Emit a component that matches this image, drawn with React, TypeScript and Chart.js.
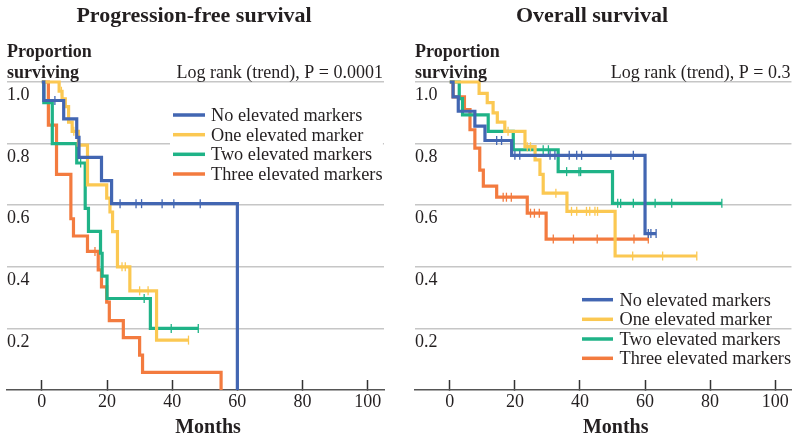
import React, { useEffect, useRef } from 'react';
import { Chart, registerables } from 'chart.js';

Chart.register(...registerables);

// ---------- shared labels ----------
const seriesNames = ['No elevated markers', 'One elevated marker', 'Two elevated markers', 'Three elevated markers'];
const seriesColors = ['#4266b2', '#fbc852', '#1fb387', '#f37b3f'];
const xTickValues = [0, 20, 40, 60, 80, 100];
const yTickValues = [0.2, 0.4, 0.6, 0.8, 1.0];
const yTickLabels = ['0.2', '0.4', '0.6', '0.8', '1.0'];

// ---------- Progression-free survival ----------
const pfsNoneMonths = [0, 0.6, 6.7, 10.7, 11.4, 18.3, 21.4, 60];
const pfsNoneSurv = [1, 0.94, 0.88, 0.82, 0.755, 0.68, 0.605, 0];
const pfsNoneCensored = [4, 24, 28.9, 30.6, 36.9, 40.5, 48.6];

const pfsOneMonths = [0, 5.3, 6.2, 7.2, 8.2, 9.3, 11.2, 14, 19.9, 20.9, 21.7, 23.2, 27, 35.2, 45];
const pfsOneSurv = [1, 0.97, 0.945, 0.92, 0.87, 0.84, 0.795, 0.666, 0.623, 0.578, 0.514, 0.4, 0.322, 0.162, 0.162];
const pfsOneCensored = [6, 9.8, 24.6, 25.6, 30, 32.6, 45];

const pfsTwoMonths = [0, 0.6, 3.2, 10.7, 13.3, 14.3, 18, 18.5, 20, 33.3, 48];
const pfsTwoSurv = [1, 0.933, 0.8, 0.737, 0.59, 0.515, 0.444, 0.37, 0.297, 0.2, 0.2];
const pfsTwoCensored = [11.9, 31.4, 39.7, 48];

const pfsThreeMonths = [0, 2, 4.5, 8.9, 9.7, 14, 17.3, 18.3, 19.9, 20.7, 25, 30, 30.9, 55];
const pfsThreeSurv = [1, 0.86, 0.7, 0.556, 0.5, 0.45, 0.39, 0.335, 0.285, 0.225, 0.17, 0.113, 0.057, 0];
const pfsThreeCensored = [16.3];

// ---------- Overall survival ----------
const osNoneMonths = [0, 1, 2.6, 7.7, 10.8, 19, 60, 63.4];
const osNoneSurv = [1, 0.952, 0.905, 0.857, 0.81, 0.762, 0.508, 0.508];
const osNoneCensored = [14.4, 15.9, 20, 21.5, 30.8, 32.3, 36.7, 39, 40.5, 49.5, 56.4, 61, 61.8, 63.4];

const osOneMonths = [0, 9, 11.5, 13.3, 14.6, 16.9, 23.1, 26.2, 27.7, 28.7, 36, 50.8, 75.9];
const osOneSurv = [1, 0.963, 0.933, 0.9, 0.87, 0.84, 0.79, 0.747, 0.7, 0.639, 0.58, 0.435, 0.435];
const osOneCensored = [17.9, 23.8, 24.8, 32.6, 37.4, 39, 42, 43, 44.6, 45.4, 56.2, 65.4, 75.9];

const osTwoMonths = [0, 2.9, 3.9, 11.8, 19.5, 33.3, 50, 83.6];
const osTwoSurv = [1, 0.946, 0.893, 0.84, 0.78, 0.709, 0.606, 0.606];
const osTwoCensored = [28.7, 30.3, 35.9, 39.7, 40.2, 51.6, 52.5, 56.4, 63.1, 68.2, 83.6];

const osThreeMonths = [0, 1, 4.5, 6.2, 7.7, 9.2, 10.3, 14.4, 23.8, 29.6, 61];
const osThreeSurv = [1, 0.952, 0.91, 0.845, 0.785, 0.714, 0.662, 0.626, 0.574, 0.49, 0.49];
const osThreeCensored = [16.4, 17.4, 18.9, 24.8, 26, 27.5, 31.8, 38, 45.3, 56.6, 61];

const FONT = '"Liberation Serif", "Times New Roman", serif';
const TEXT = '#231f20';

type Curve = { months: number[]; surv: number[]; censored: number[] };

function survAt(months: number[], surv: number[], t: number) {
  let v = surv[0];
  for (let i = 0; i < months.length; i++) {
    if (months[i] <= t) v = surv[i];
  }
  return v;
}

function makeDatasets(curves: Curve[]) {
  const sets: any[] = [];
  curves.forEach((c, i) => {
    sets.push({
      label: seriesNames[i],
      data: c.months.map((m, k) => ({ x: m, y: c.surv[k] })),
      borderColor: seriesColors[i],
      backgroundColor: seriesColors[i],
      borderWidth: 3.2,
      stepped: 'before',
      pointRadius: 0,
      fill: false,
      clip: false,
    });
    sets.push({
      label: seriesNames[i] + ' (censored)',
      data: c.censored.map((m) => ({ x: m, y: survAt(c.months, c.surv, m) })),
      showLine: false,
      pointStyle: 'line',
      pointRotation: 90,
      pointRadius: 4.5,
      pointBorderWidth: 1.3,
      pointBorderColor: seriesColors[i],
      borderColor: seriesColors[i],
      backgroundColor: seriesColors[i],
      clip: false,
    });
  });
  return sets;
}

type TextCfg = {
  title: string;
  titleX: number;
  pText: string;
  legendX1: number;
  legendX2: number;
  legendTextX: number;
  legendBaselines: number[];
  legendBox: boolean;
  monthsX: number;
};

function textPlugin(cfg: TextCfg) {
  return {
    id: 'kmTexts',
    beforeDatasetsDraw(chart: any) {
      if (!cfg.legendBox) return;
      const ctx = chart.ctx as CanvasRenderingContext2D;
      ctx.save();
      ctx.font = `18px ${FONT}`;
      let w = 0;
      seriesNames.forEach((n) => {
        w = Math.max(w, ctx.measureText(n).width);
      });
      const b = cfg.legendBaselines;
      ctx.fillStyle = '#ffffff';
      ctx.fillRect(cfg.legendX1 - 3, b[0] - 15, cfg.legendTextX + w + 3 - (cfg.legendX1 - 3), b[b.length - 1] - b[0] + 20);
      ctx.restore();
    },
    afterDraw(chart: any) {
      const ctx = chart.ctx as CanvasRenderingContext2D;
      const area = chart.chartArea;
      ctx.save();
      ctx.fillStyle = TEXT;
      ctx.textBaseline = 'alphabetic';
      // title
      ctx.font = `bold 22px ${FONT}`;
      ctx.textAlign = 'center';
      ctx.fillText(cfg.title, cfg.titleX, 22);
      // y label
      ctx.font = `bold 18px ${FONT}`;
      ctx.textAlign = 'left';
      ctx.fillText('Proportion', area.left, 57);
      ctx.fillText('surviving', area.left, 77.5);
      // log rank
      ctx.font = `18px ${FONT}`;
      ctx.textAlign = 'right';
      ctx.fillText(cfg.pText, area.right - 1, 78);
      // x label
      ctx.font = `bold 20px ${FONT}`;
      ctx.textAlign = 'center';
      ctx.fillText('Months', cfg.monthsX, 433);
      // legend
      ctx.font = `18.3px ${FONT}`;
      ctx.textAlign = 'left';
      seriesNames.forEach((name, i) => {
        const b = cfg.legendBaselines[i];
        ctx.strokeStyle = seriesColors[i];
        ctx.lineWidth = 3.5;
        ctx.beginPath();
        ctx.moveTo(cfg.legendX1, b - 6);
        ctx.lineTo(cfg.legendX2, b - 6);
        ctx.stroke();
        ctx.fillStyle = TEXT;
        ctx.fillText(name, cfg.legendTextX, b);
      });
      ctx.restore();
    },
  };
}

function makeChart(canvas: HTMLCanvasElement, curves: Curve[], padL: number, padR: number, cfg: TextCfg) {
  return new Chart(canvas, {
    type: 'line',
    data: { datasets: makeDatasets(curves) },
    options: {
      responsive: false,
      animation: false,
      devicePixelRatio: 1,
      layout: { padding: { left: padL, right: padR, top: 82, bottom: 0 } },
      plugins: {
        legend: { display: false },
        tooltip: { enabled: false },
        title: { display: false },
      },
      scales: {
        x: {
          type: 'linear',
          position: 'bottom',
          min: -10.7,
          max: 105,
          afterBuildTicks: (s: any) => {
            s.ticks = xTickValues.map((v) => ({ value: v }));
          },
          afterFit: (s: any) => {
            s.height = 50;
          },
          ticks: {
            font: { family: FONT, size: 18 },
            color: TEXT,
            padding: 11,
            maxRotation: 0,
            autoSkip: false,
          },
          grid: {
            drawOnChartArea: false,
            drawTicks: true,
            tickLength: -10,
            tickColor: '#333333',
            tickWidth: 1.5,
          },
          border: { display: true, color: '#555555', width: 1.6 },
        },
        y: {
          type: 'linear',
          min: 0,
          max: 1,
          afterBuildTicks: (s: any) => {
            s.ticks = yTickValues.map((v) => ({ value: v }));
          },
          afterFit: (s: any) => {
            s.width = 0;
          },
          ticks: {
            mirror: true,
            padding: 0,
            labelOffset: 13.5,
            font: { family: FONT, size: 18 },
            color: TEXT,
            callback: (_v: any, i: number) => yTickLabels[i],
          },
          grid: { color: '#c6c6c6', lineWidth: 1.5, drawTicks: false },
          border: { display: false },
        },
      },
    },
    plugins: [textPlugin(cfg)],
  } as any);
}

export default function App() {
  const leftRef = useRef<HTMLCanvasElement>(null);
  const rightRef = useRef<HTMLCanvasElement>(null);

  useEffect(() => {
    const pfsCurves: Curve[] = [
      { months: pfsNoneMonths, surv: pfsNoneSurv, censored: pfsNoneCensored },
      { months: pfsOneMonths, surv: pfsOneSurv, censored: pfsOneCensored },
      { months: pfsTwoMonths, surv: pfsTwoSurv, censored: pfsTwoCensored },
      { months: pfsThreeMonths, surv: pfsThreeSurv, censored: pfsThreeCensored },
    ];
    const osCurves: Curve[] = [
      { months: osNoneMonths, surv: osNoneSurv, censored: osNoneCensored },
      { months: osOneMonths, surv: osOneSurv, censored: osOneCensored },
      { months: osTwoMonths, surv: osTwoSurv, censored: osTwoCensored },
      { months: osThreeMonths, surv: osThreeSurv, censored: osThreeCensored },
    ];
    const left = makeChart(leftRef.current!, pfsCurves, 7, 16, {
      title: 'Progression-free survival',
      titleX: 194,
      pText: 'Log rank (trend), P = 0.0001',
      legendX1: 173,
      legendX2: 205,
      legendTextX: 211,
      legendBaselines: [121, 140.7, 160.3, 180],
      legendBox: true,
      monthsX: 208,
    });
    const right = makeChart(rightRef.current!, osCurves, 15, 7, {
      title: 'Overall survival',
      titleX: 192,
      pText: 'Log rank (trend), P = 0.3',
      legendX1: 182,
      legendX2: 213,
      legendTextX: 219.5,
      legendBaselines: [305.7, 325.3, 345, 364.3],
      legendBox: false,
      monthsX: 215.7,
    });
    return () => {
      left.destroy();
      right.destroy();
    };
  }, []);

  return (
    <div style={{ position: 'absolute', left: 0, top: 0, width: 800, height: 440, display: 'flex', background: '#ffffff' }}>
      <canvas ref={leftRef} width={400} height={440} style={{ display: 'block', width: 400, height: 440 }} />
      <canvas ref={rightRef} width={400} height={440} style={{ display: 'block', width: 400, height: 440 }} />
    </div>
  );
}
